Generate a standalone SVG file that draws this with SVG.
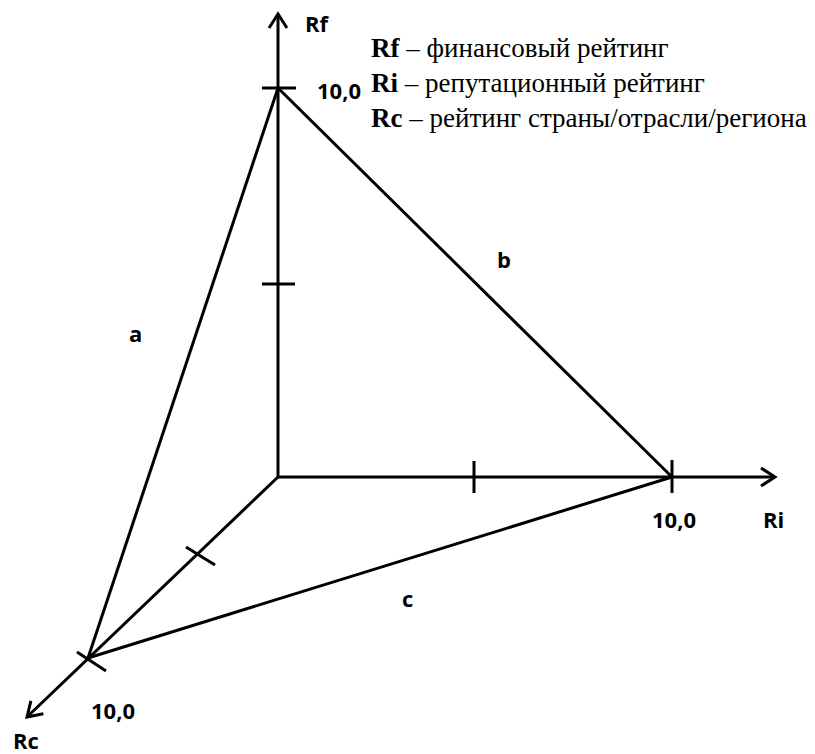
<svg xmlns="http://www.w3.org/2000/svg" width="815" height="754" viewBox="0 0 815 754">
<style>
.ln{stroke:#000;stroke-width:3;fill:none;stroke-linecap:butt}
.lbl{font-family:"Open Sans","Liberation Sans",sans-serif;font-weight:700;font-size:22px;fill:#000}
.leg{font-family:"Liberation Serif","Times New Roman",serif;font-size:27px;fill:#000}
.leg .b{font-weight:700}
</style>
<defs>
<marker id="arr" markerUnits="userSpaceOnUse" markerWidth="30" markerHeight="30" refX="0" refY="0" viewBox="-20 -15 30 30" orient="auto">
<path d="M-14,-9 L0,0 L-14,9" fill="none" stroke="#000" stroke-width="3"/>
</marker>
</defs>
<rect width="815" height="754" fill="#fff"/>
<g id="connectors">
<line class="ln" x1="278" y1="478" x2="278" y2="14" marker-end="url(#arr)"/>
<line class="ln" x1="277" y1="477" x2="775" y2="477" marker-end="url(#arr)"/>
<line class="ln" x1="278" y1="477" x2="27" y2="717" marker-end="url(#arr)"/>
<line class="ln" x1="278" y1="88" x2="672" y2="477"/>
<line class="ln" x1="672" y1="477" x2="88" y2="658"/>
<line class="ln" x1="88" y1="658" x2="278" y2="88"/>
</g>
<g id="ticks">
<line class="ln" x1="262" y1="88" x2="296" y2="88"/>
<line class="ln" x1="262" y1="284" x2="295" y2="284"/>
<line class="ln" x1="672" y1="460" x2="672" y2="493"/>
<line class="ln" x1="474" y1="461" x2="474" y2="493"/>
<line class="ln" x1="77" y1="652" x2="106" y2="671"/>
<line class="ln" x1="186" y1="547" x2="215" y2="565"/>
</g>
<g id="axis-rf"><text class="lbl" x="305" y="32">Rf</text><text class="lbl" x="317" y="99">10,0</text></g>
<g id="axis-ri"><text class="lbl" x="763" y="528">Ri</text><text class="lbl" x="652" y="528">10,0</text></g>
<g id="axis-rc"><text class="lbl" x="13" y="749">Rc</text><text class="lbl" x="91" y="719">10,0</text></g>
<g id="edge-labels">
<text class="lbl" x="129" y="342">a</text>
<text class="lbl" x="497" y="268">b</text>
<text class="lbl" x="402" y="607">c</text>
</g>
<g id="legend" class="leg">
<text x="371" y="57"><tspan class="b">Rf</tspan> – финансовый рейтинг</text>
<text x="371" y="92"><tspan class="b">Ri</tspan> – репутационный рейтинг</text>
<text x="371" y="127"><tspan class="b">Rc</tspan> – рейтинг страны/отрасли/региона</text>
</g>
</svg>
